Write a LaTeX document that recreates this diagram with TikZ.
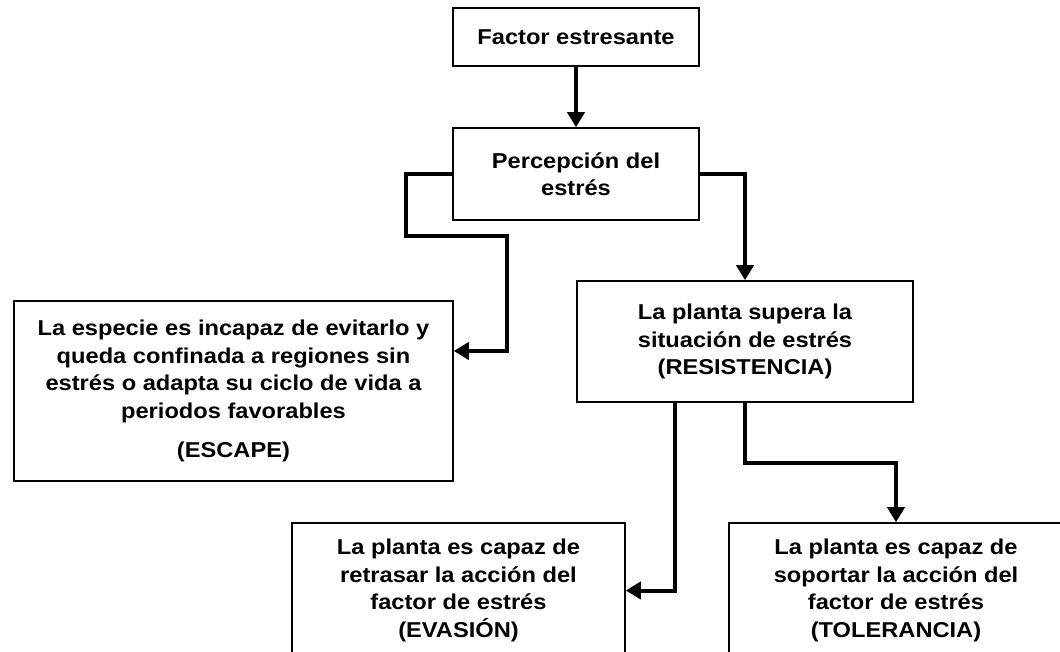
\documentclass[tikz,border=0pt]{standalone}
\usepackage{fontspec}
\setmainfont{Liberation Sans}[FakeStretch=1.1]
\usetikzlibrary{arrows.meta,calc}
\begin{document}
\begin{tikzpicture}[x=1pt,y=-1pt,
  box/.style={draw=black,line width=1.6pt,fill=white,inner sep=0pt,align=center,
    font=\bfseries\fontsize{21.5}{27.5}\selectfont},
  conn/.style={line width=4pt,-{Triangle[length=15pt,width=17pt]}}]
\useasboundingbox (0,0) rectangle (1060,652);
\clip (0,0) rectangle (1060,652);
\fill[white] (0,0) rectangle (1060,652);
\node[box,minimum width=246pt,minimum height=58pt] (factor) at (576,37) {Factor estresante};
\node[box,minimum width=246pt,minimum height=92pt] (percep) at (576,174) {Percepción del\\estrés};
\node[box,minimum width=439pt,minimum height=180pt] (escape) at (233.5,391)
  {La especie es incapaz de evitarlo y\\queda confinada a regiones sin\\estrés o adapta su ciclo de vida a\\periodos favorables\\[12pt](ESCAPE)};
\node[box,minimum width=336pt,minimum height=121pt] (resist) at (745,341.5)
  {La planta supera la\\situación de estrés\\(RESISTENCIA)};
\node[box,minimum width=333pt,minimum height=135pt] (evas) at (458.5,590.5)
  {La planta es capaz de\\retrasar la acción del\\factor de estrés\\(EVASIÓN)};
\node[box,minimum width=334pt,minimum height=135pt] (toler) at (896,590.5)
  {La planta es capaz de\\soportar la acción del\\factor de estrés\\(TOLERANCIA)};
\draw[conn] (factor.south) -- (percep.north);
\draw[conn] (percep.east) -| (resist.north);
\draw[conn] (percep.west) -- (406,174) -- (406,236) -- (507,236) -- (507,351) -- (escape.east |- 507,351);
\draw[conn] (resist.south -| 675,0) |- (evas.east);
\draw[conn] (resist.south) -- ++(0,60) -| (toler.north);
\end{tikzpicture}
\end{document}
